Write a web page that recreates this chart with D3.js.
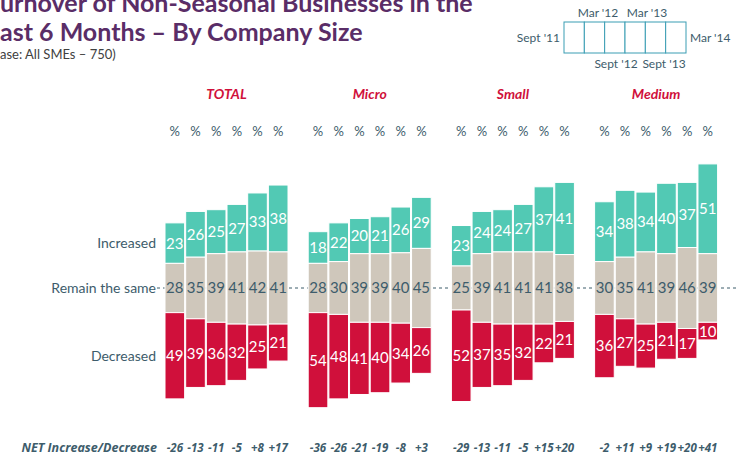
<!DOCTYPE html>
<html>
<head>
<meta charset="utf-8">
<script src="https://cdn.jsdelivr.net/npm/d3@7"></script>
<style>
  body { margin: 0; background: #fff; }
  svg { display: block; font-family: Lato, "Open Sans", sans-serif; }
</style>
</head>
<body>
<svg id="chart" width="738" height="460"></svg>
<script>
// data
const groups = ['TOTAL', 'Micro', 'Small', 'Medium'];
const periods = ["Sept '11", "Mar '12", "Sept '12", "Mar '13", "Sept '13", "Mar '14"];

const increased = [
    [23, 26, 25, 27, 33, 38],
    [18, 22, 20, 21, 26, 29],
    [23, 24, 24, 27, 37, 41],
    [34, 38, 34, 40, 37, 51]
];
const remained = [
    [28, 35, 39, 41, 42, 41],
    [28, 30, 39, 39, 40, 45],
    [25, 39, 41, 41, 41, 38],
    [30, 35, 41, 39, 46, 39]
];
const decreased = [
    [49, 39, 36, 32, 25, 21],
    [54, 48, 41, 40, 34, 26],
    [52, 37, 35, 32, 22, 21],
    [36, 27, 25, 21, 17, 10]
];
const netLabels = [
    ['-26', '-13', '-11', '-5', '+8', '+17'],
    ['-36', '-26', '-21', '-19', '-8', '+3'],
    ['-29', '-13', '-11', '-5', '+15', '+20'],
    ['-2', '+11', '+9', '+19', '+20', '+41']
];
const rowLabels = ['Increased', 'Remain the same', 'Decreased'];

const colors = {
    inc: '#52c9b4',
    mid: '#cfc7bb',
    dec: '#d0103b',
    text: '#3d5c6b',
    head: '#d0103b',
    title: '#5a2d67'
};

const svg = d3.select('#chart');

// scales
const gx = d3.scaleBand()
    .domain(groups)
    .range([165, 165 + 4 * 143.2])
    .padding(0);

const bx = d3.scaleBand()
    .domain(periods)
    .range([0, 6 * 20.5])
    .paddingInner(0.05)
    .paddingOuter(0);

const h = d3.scaleLinear().domain([0, 100]).range([0, 176]);
const midY = 288;

// title (clipped at the top/left like the source slide)
svg.append('text')
    .attr('x', 0).attr('y', 12)
    .style('font-size', '25px').style('font-weight', 'bold')
    .style('fill', colors.title)
    .text('urnover of Non-Seasonal Businesses in the');
svg.append('text')
    .attr('x', 0).attr('y', 41)
    .style('font-size', '25px').style('font-weight', 'bold')
    .style('fill', colors.title)
    .text('ast 6 Months \u2013 By Company Size');
svg.append('text')
    .attr('x', 0).attr('y', 59)
    .style('font-size', '13px')
    .style('fill', '#404040')
    .text('ase: All SMEs \u2013 750)');

// legend of periods
const legend = svg.append('g');
const lx = d3.scaleBand().domain(periods).range([564, 686]);
legend.selectAll('rect')
    .data(periods)
    .enter()
    .append('rect')
    .attr('x', d => lx(d))
    .attr('y', 22)
    .attr('width', lx.bandwidth())
    .attr('height', 31)
    .style('fill', '#fff')
    .style('stroke', '#3a9db3')
    .style('stroke-width', 1);

const legendText = [
    {t: "Sept '11", x: 560, y: 42, a: 'end'},
    {t: "Mar '14", x: 690, y: 42, a: 'start'},
    {t: "Mar '12", x: 598, y: 17, a: 'middle'},
    {t: "Mar '13", x: 647, y: 17, a: 'middle'},
    {t: "Sept '12", x: 616, y: 68, a: 'middle'},
    {t: "Sept '13", x: 664, y: 68, a: 'middle'}
];
legend.selectAll('text')
    .data(legendText)
    .enter()
    .append('text')
    .attr('x', d => d.x)
    .attr('y', d => d.y)
    .attr('text-anchor', d => d.a)
    .style('font-size', '12px')
    .style('fill', colors.text)
    .text(d => d.t);

// dotted reference line
svg.append('line')
    .attr('x1', 157).attr('x2', 738)
    .attr('y1', midY).attr('y2', midY)
    .style('stroke', colors.text)
    .style('stroke-width', 1)
    .style('stroke-dasharray', '3,3');

// row labels
svg.selectAll('text.row')
    .data(rowLabels)
    .enter()
    .append('text')
    .attr('class', 'row')
    .attr('x', 156)
    .attr('y', (d, i) => [243, 288, 356][i])
    .attr('dy', '0.35em')
    .attr('text-anchor', 'end')
    .style('font-size', '14px')
    .style('fill', colors.text)
    .text(d => d);

// groups
groups.forEach(function (g, gi) {
    const gEl = svg.append('g').attr('transform', 'translate(' + gx(g) + ',0)');
    const cx = d => bx(d) + bx.bandwidth() / 2;

    gEl.append('text')
        .attr('x', (bx.range()[1]) / 2)
        .attr('y', 99)
        .attr('text-anchor', 'middle')
        .style('font-size', '14px')
        .style('font-weight', 'bold')
        .style('font-style', 'italic')
        .style('fill', colors.head)
        .text(g);

    gEl.selectAll('text.pct')
        .data(periods)
        .enter()
        .append('text')
        .attr('class', 'pct')
        .attr('x', cx)
        .attr('y', 136)
        .attr('text-anchor', 'middle')
        .style('font-size', '13px')
        .style('fill', colors.text)
        .text('%');

    const rows = periods.map((p, i) => {
        const m = remained[gi][i], up = increased[gi][i], dn = decreased[gi][i];
        const midTop = midY - h(m) / 2;
        return [
            {p: p, v: up, y: midTop - h(up), hh: h(up), fill: colors.inc, tc: '#fff'},
            {p: p, v: m, y: midTop, hh: h(m), fill: colors.mid, tc: colors.text},
            {p: p, v: dn, y: midTop + h(m), hh: h(dn), fill: colors.dec, tc: '#fff'}
        ];
    }).flat();

    gEl.selectAll('rect')
        .data(rows)
        .enter()
        .append('rect')
        .attr('x', d => bx(d.p))
        .attr('y', d => d.y)
        .attr('width', bx.bandwidth())
        .attr('height', d => d.hh)
        .style('fill', d => d.fill)
        .style('stroke', '#fff')
        .style('stroke-width', 1);

    gEl.selectAll('text.val')
        .data(rows)
        .enter()
        .append('text')
        .attr('class', 'val')
        .attr('x', d => cx(d.p))
        .attr('y', d => d.y + d.hh / 2)
        .attr('dy', '0.36em')
        .attr('text-anchor', 'middle')
        .style('font-size', '15px')
        .style('fill', d => d.tc)
        .text(d => d.v);

    gEl.selectAll('text.net')
        .data(periods)
        .enter()
        .append('text')
        .attr('class', 'net')
        .attr('x', cx)
        .attr('y', 452)
        .attr('text-anchor', 'middle')
        .style('font-family', '"Liberation Sans Narrow", "Open Sans", sans-serif')
        .style('font-size', '11.5px')
        .style('font-weight', 'bold')
        .style('font-style', 'italic')
        .style('fill', colors.text)
        .text((d, i) => netLabels[gi][i]);
});

svg.append('text')
    .attr('x', 157)
    .attr('y', 452)
    .attr('text-anchor', 'end')
    .style('font-family', '"Liberation Sans Narrow", "Open Sans", sans-serif')
    .style('font-size', '12.5px')
    .style('font-weight', 'bold')
    .style('font-style', 'italic')
    .style('fill', colors.text)
    .text('NET Increase/Decrease');
</script>
</body>
</html>
